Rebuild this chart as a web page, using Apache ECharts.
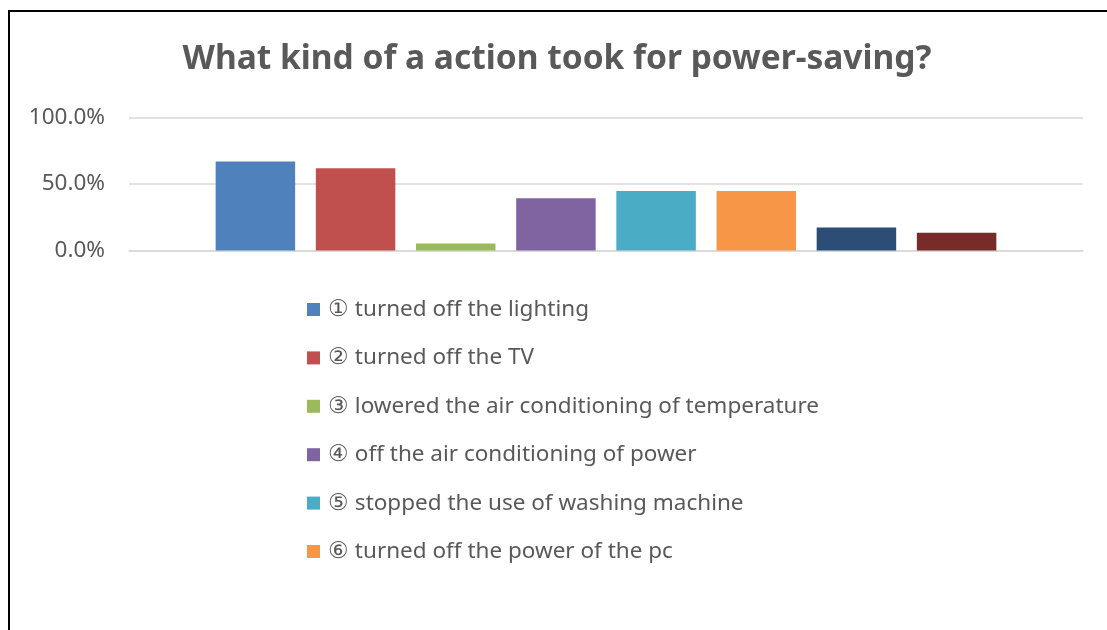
<!DOCTYPE html>
<html>
<head>
<meta charset="utf-8">
<title>Power-saving actions</title>
<script src="https://cdn.jsdelivr.net/npm/echarts@6/dist/echarts.min.js"></script>
<style>
  html, body { margin: 0; padding: 0; background: #fff; }
  #chart { width: 1107px; height: 630px; }
</style>
</head>
<body>
<div id="chart"></div>
<script>
// Share of respondents who took each power-saving action
const actionNames = [
  '① turned off the lighting',
  '② turned off the TV',
  '③ lowered the air conditioning of temperature',
  '④ off the air conditioning of power',
  '⑤ stopped the use of washing machine',
  '⑥ turned off the power of the pc',
  '⑦',
  '⑧'
];
const actionShares = [0.669, 0.618, 0.053, 0.393, 0.447, 0.447, 0.172, 0.134];
const actionColors = ['#4F81BD', '#C0504D', '#9BBB59', '#8064A2', '#4BACC6', '#F79646', '#2C4D75', '#772C2A'];
const legendNames = actionNames.slice(0, 6);
const yTicks = [0, 0.5, 1];

const textColor = '#595959';
const uiFont = '"Noto Sans", "Open Sans", sans-serif';

const chart = echarts.init(document.getElementById('chart'), null, { renderer: 'canvas' });

const series = actionNames.map((name, i) => ({
  name: name,
  type: 'bar',
  data: [actionShares[i]],
  barWidth: 79.5,
  barGap: '26%',
  itemStyle: { color: actionColors[i] }
}));

chart.setOption({
  animation: false,
  backgroundColor: '#fff',
  color: actionColors,
  title: {
    text: 'What kind of a action took for power-saving?',
    left: 557,
    textAlign: 'center',
    top: 42,
    padding: 0,
    textStyle: {
      fontFamily: uiFont,
      fontWeight: 'bold',
      fontSize: 33.5,
      color: textColor
    }
  },
  grid: {
    left: 129,
    right: 24,
    top: 117.5,
    bottom: 379.5,
    containLabel: false
  },
  xAxis: {
    type: 'category',
    data: [''],
    axisLine: { show: true, lineStyle: { color: '#D9D9D9', width: 1.5 } },
    axisTick: { show: false },
    axisLabel: { show: false }
  },
  yAxis: {
    type: 'value',
    min: yTicks[0],
    max: yTicks[yTicks.length - 1],
    interval: 0.5,
    axisLine: { show: false },
    axisTick: { show: false },
    axisLabel: {
      margin: 24,
      fontFamily: uiFont,
      fontSize: 22.5,
      color: textColor,
      formatter: v => (v * 100).toFixed(1) + '%'
    },
    splitLine: { lineStyle: { color: '#D9D9D9', width: 1.5 } }
  },
  legend: {
    data: legendNames,
    orient: 'vertical',
    left: 307,
    top: 297.5,
    padding: 0,
    itemWidth: 13,
    itemHeight: 13,
    itemGap: 24.4,
    icon: 'rect',
    selectedMode: false,
    textStyle: {
      fontFamily: uiFont,
      fontSize: 22.5,
      lineHeight: 24,
      color: textColor,
      padding: [0, 0, 0, 3]
    }
  },
  graphic: [{
    type: 'rect',
    silent: true,
    shape: { x: 9, y: 11, width: 1200, height: 700 },
    style: { fill: 'none', stroke: '#000', lineWidth: 2 }
  }],
  series: series
});
</script>
</body>
</html>
